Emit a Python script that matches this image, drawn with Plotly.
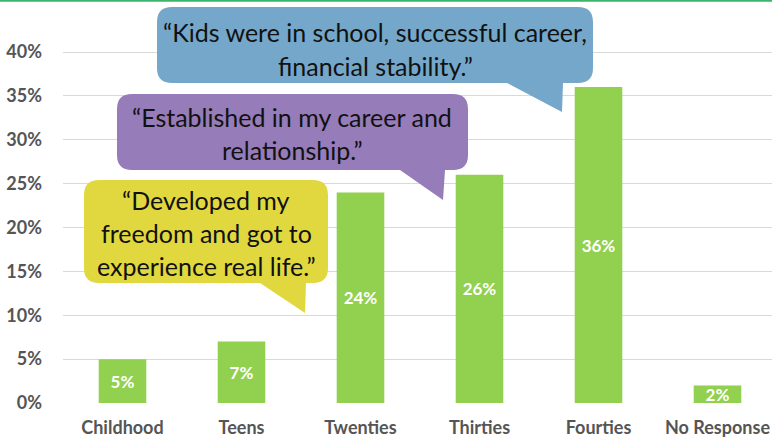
import plotly.graph_objects as go

categories = ["Childhood", "Teens", "Twenties", "Thirties", "Fourties", "No Response"]
values = [5, 7, 24, 26, 36, 2]
y_ticks = [0, 5, 10, 15, 20, 25, 30, 35, 40]
y_ticklabels = [f"{v}%" for v in y_ticks]

quotes = [
    ["“Developed my", "freedom and got to", "experience real life.”"],
    ["“Established in my career and", "relationship.”"],
    ["“Kids were in school, successful career,", "financial stability.”"],
]

W, H = 772, 439
L, B = 63, 36
PLOT_W = W - L
PLOT_H = H - B
STEP = 119.0
Y_PX_PER = 8.775

def px(x):
    return (x - L) / PLOT_W

def py(y):
    return (PLOT_H - y) / PLOT_H

def bubble(x0, y0, x1, y1, r, ts, tip, te):
    def P(x, y):
        return f"{px(x):.5f},{py(y):.5f}"
    d = f"M {P(x0 + r, y0)} L {P(x1 - r, y0)} Q {P(x1, y0)} {P(x1, y0 + r)} "
    d += f"L {P(x1, y1 - r)} Q {P(x1, y1)} {P(x1 - r, y1)} "
    d += f"L {P(te, y1)} L {P(tip[0], tip[1])} L {P(ts, y1)} "
    d += f"L {P(x0 + r, y1)} Q {P(x0, y1)} {P(x0, y1 - r)} "
    d += f"L {P(x0, y0 + r)} Q {P(x0, y0)} {P(x0 + r, y0)} Z"
    return d

fig = go.Figure()
fig.add_trace(go.Bar(
    x=list(range(len(categories))),
    y=values,
    marker=dict(color="#92D050", line=dict(width=0)),
    width=0.4,
    text=[f"{v}%" for v in values],
    textposition="inside",
    insidetextanchor="middle",
    constraintext="none",
    textfont=dict(color="white", size=17, family="Lato", weight="bold"),
    hoverinfo="skip",
))

bubbles = [
    dict(box=(84, 180, 328, 283), ts=260, tip=(305, 313), te=306, color="#E1D840",
         cx=206, ys=[200, 233, 266]),
    dict(box=(117, 94, 468, 170), ts=400, tip=(443, 200), te=445, color="#967CB8",
         cx=292, ys=[117, 150]),
    dict(box=(157, 7, 593, 83), ts=507, tip=(562, 112), te=563, color="#74A7C9",
         cx=375, ys=[32, 66]),
]

shapes = [dict(type="line", xref="paper", yref="paper", x0=px(0), x1=px(W),
               y0=py(0.8), y1=py(0.8), line=dict(color="#3CB56A", width=2))]
annotations = []
for b, q in zip(bubbles, quotes):
    x0, y0, x1, y1 = b["box"]
    shapes.append(dict(type="path", xref="paper", yref="paper",
                       path=bubble(x0, y0, x1, y1, 15, b["ts"], b["tip"], b["te"]),
                       fillcolor=b["color"], line=dict(width=0), layer="above"))
    for line_text, yy in zip(q, b["ys"]):
        annotations.append(dict(xref="paper", yref="paper", x=px(b["cx"]), y=py(yy),
                                text=line_text, showarrow=False, xanchor="center",
                                yanchor="middle",
                                font=dict(family="Lato", size=25, color="#111111")))

fig.update_layout(
    width=W, height=H,
    margin=dict(l=L, r=0, t=0, b=B, autoexpand=False),
    paper_bgcolor="white", plot_bgcolor="white",
    showlegend=False,
    shapes=shapes,
    annotations=annotations,
    xaxis=dict(
        range=[-0.5, -0.5 + PLOT_W / STEP],
        tickvals=list(range(len(categories))),
        ticktext=categories,
        showgrid=False, zeroline=False, showline=False,
        ticks="", ticklabelstandoff=12, automargin=False,
        tickfont=dict(family="Lato", size=18, color="#555555", weight="bold"),
        fixedrange=True,
    ),
    yaxis=dict(
        range=[0, PLOT_H / Y_PX_PER],
        tickvals=y_ticks, ticktext=y_ticklabels,
        showgrid=True, gridcolor="#D9D9D9", gridwidth=1,
        zeroline=False, showline=False, ticks="",
        ticklabelstandoff=20, automargin=False,
        tickfont=dict(family="Lato", size=18, color="#555555", weight="bold"),
        fixedrange=True,
    ),
    bargap=0.6,
)

fig.write_html("out.html",
               config={"displayModeBar": False},
               post_script="document.body.style.margin='0';document.body.style.overflow='hidden';")
